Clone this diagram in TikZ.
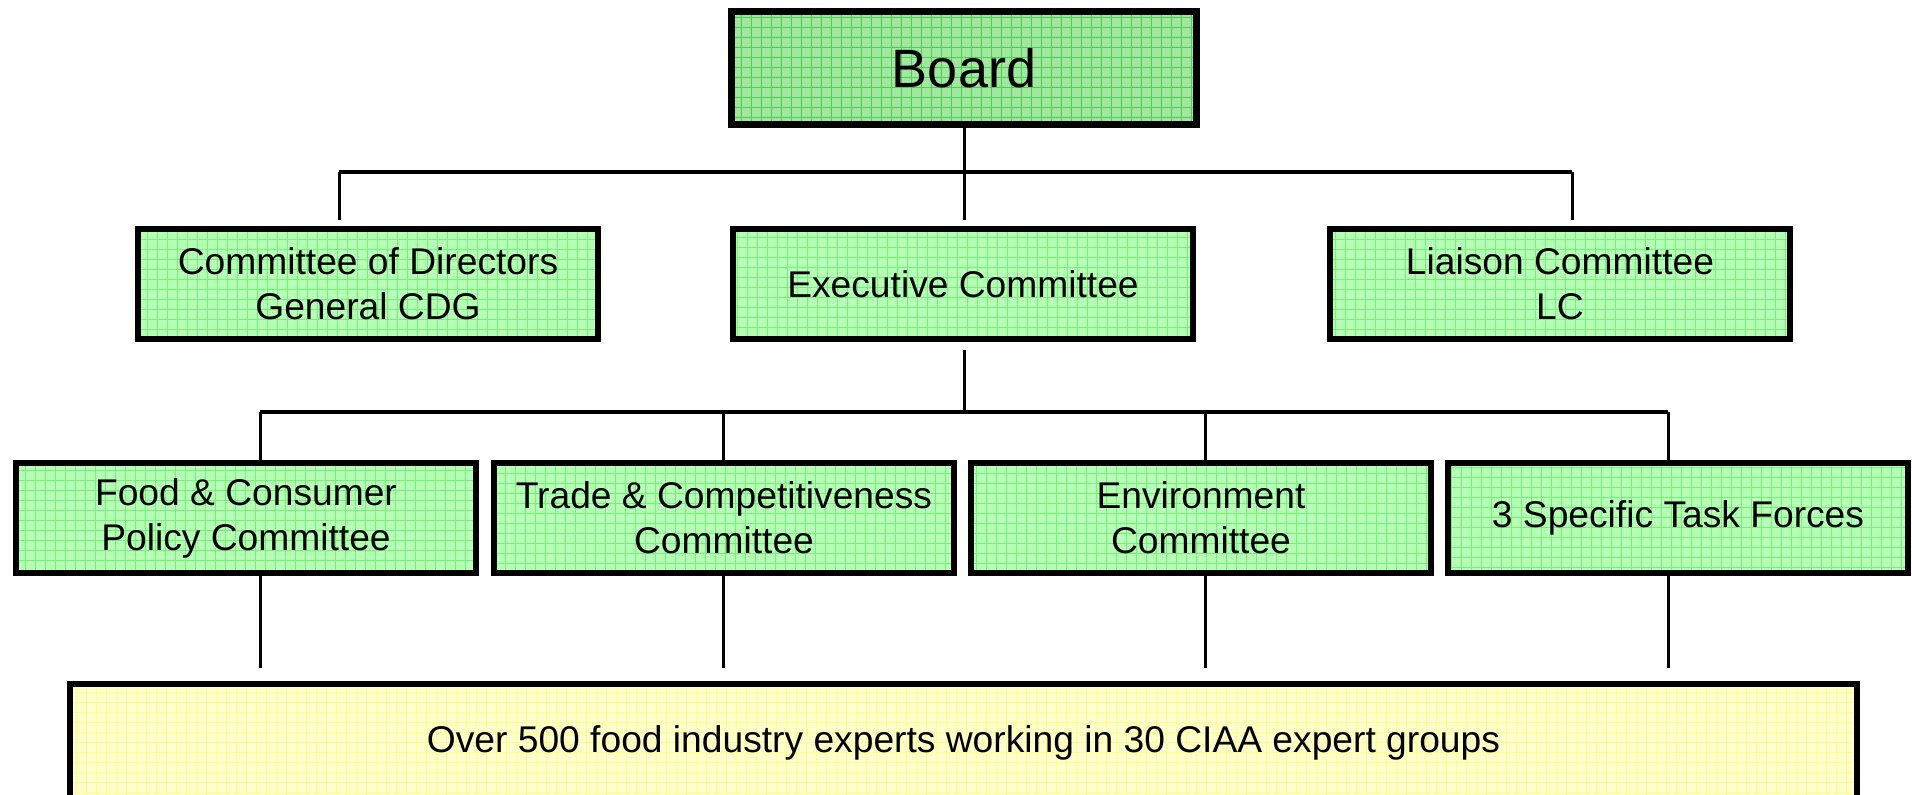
\documentclass[tikz,border=0pt]{standalone}
\usepackage{fontspec}
\setmainfont{Liberation Sans}
\usetikzlibrary{positioning}

\definecolor{boardfill}{RGB}{160,232,160}
\definecolor{boardgrid}{RGB}{80,205,80}
\definecolor{boxfill}{RGB}{182,255,182}
\definecolor{boxgrid}{RGB}{120,240,120}
\definecolor{basefill}{RGB}{255,255,205}
\definecolor{basegrid}{RGB}{255,255,140}

\tikzset{
  gridded/.style={path picture={\draw[#1,line width=0.5pt,step=5pt]
      (path picture bounding box.south west) grid (path picture bounding box.north east);}},
  boardbox/.style={draw,line width=3.5pt,fill=boardfill,gridded=boardgrid,
      minimum width=232.5pt,minimum height=56.5pt,font=\fontsize{27}{30}\selectfont},
  unitbox/.style={draw,line width=3pt,fill=boxfill,gridded=boxgrid,align=center,
      minimum width=230pt,minimum height=55pt,font=\fontsize{18.6}{22.5}\selectfont},
  basebox/.style={draw,line width=3pt,fill=basefill,gridded=basegrid,
      minimum width=893.5pt,minimum height=59pt,font=\fontsize{18.6}{22.5}\selectfont},
  link/.style={line width=1.5pt},
  bus/.style={line width=2pt}
}

\begin{document}
\begin{tikzpicture}[x=0.5pt,y=-0.5pt]
    \useasboundingbox (0,0) rectangle (1912,794);
    % top level
    \node[boardbox] (board) at (964,68) {Board};
    % second row
    \node[unitbox] (cdg) at (368,284) {Committee of Directors\\General CDG};
    \node[unitbox] (exec) at (963,284) {Executive Committee};
    \node[unitbox] (lc) at (1560,284) {Liaison Committee\\LC};
    % third row
    \node[unitbox] (food) at (246,518) {Food \& Consumer\\Policy Committee};
    \node[unitbox] (trade) at (724,518) {Trade \& Competitiveness\\Committee};
    \node[unitbox] (env) at (1201,518) {Environment\\Committee};
    \node[unitbox] (tf) at (1678,518) {3 Specific Task Forces};
    % experts
    \node[basebox] (experts) at (963.5,743) {Over 500 food industry experts working in 30 CIAA expert groups};

    % board to second row
    \coordinate (busa) at (964,172);
    \coordinate (cdgdrop) at (339,220);
    \coordinate (execdrop) at (964,220);
    \coordinate (lcdrop) at (1572,220);
    \draw[link] (board.south) -- (busa);
    \draw[bus] (cdgdrop |- busa) -- (lcdrop |- busa);
    \draw[link] (cdgdrop |- busa) -- (cdgdrop);
    \draw[link] (busa) -- (execdrop);
    \draw[link] (lcdrop |- busa) -- (lcdrop);

    % executive to committees
    \coordinate (busb) at (964,412);
    \coordinate (fooddrop) at (260,668);
    \coordinate (tradedrop) at (723,668);
    \coordinate (envdrop) at (1205,668);
    \coordinate (tfdrop) at (1668,668);
    \draw[link] (964,350) -- (busb);
    \draw[bus] (fooddrop |- busb) -- (tfdrop |- busb);
    \foreach \n in {food,trade,env,tf}{
      \draw[link] (\n drop |- busb) -- (\n drop |- food.north);
      \draw[link] (\n drop |- food.south) -- (\n drop);
    }
\end{tikzpicture}
\end{document}
